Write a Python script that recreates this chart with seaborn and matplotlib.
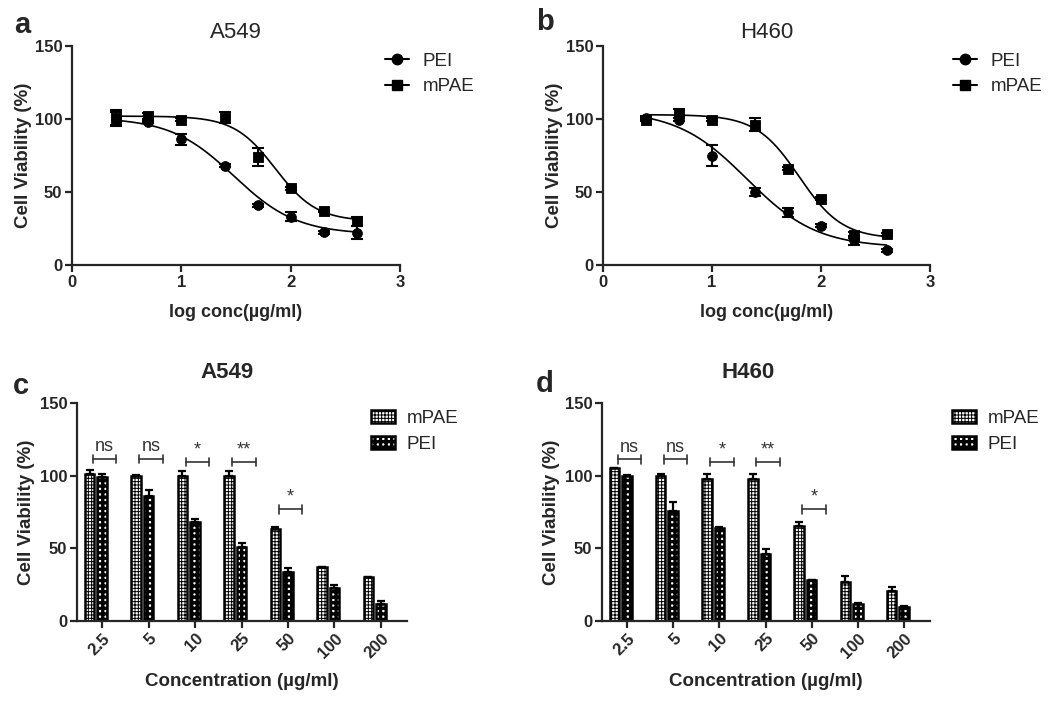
import numpy as np
import pandas as pd
import seaborn as sns
import matplotlib.pyplot as plt
from matplotlib.lines import Line2D
from matplotlib.patches import Patch

# ---- dose-response data (panels a, b) ----
conc_curve = [2.5, 5, 10, 25, 50, 100, 200, 400]
a_pei = [100, 98, 86, 68, 41, 33, 22.5, 22]
a_pei_err = [5, 1, 4, 1, 1, 3, 1, 4.5]
a_mpae = [101, 102, 99.5, 101, 74, 52.5, 37, 30]
a_mpae_err = [5, 2, 1, 4, 6, 1, 1, 3]
b_pei = [101, 99.5, 75, 50, 36, 27, 17, 10]
b_pei_err = [1, 1, 7, 3, 3, 1, 3, 1]
b_mpae = [99.5, 104, 99.5, 96, 66, 45.5, 20.5, 21]
b_mpae_err = [1, 3, 1, 4.5, 1, 1, 2, 1]

# fitted 4PL parameters: top, bottom, logIC50, hill slope
a_pei_fit = [101, 21, 1.48, -1.5]
a_mpae_fit = [102, 30, 1.86, -2.3]
b_pei_fit = [106, 12, 1.32, -1.35]
b_mpae_fit = [103, 18, 1.80, -2.2]

# ---- bar data (panels c, d) ----
conc_labels = ['2.5', '5', '10', '25', '50', '100', '200']
c_mpae = [101, 100, 100, 100, 63, 37, 30]
c_mpae_err = [3, 0.5, 3, 3, 2, 0.5, 0.5]
c_pei = [99, 86, 68, 51, 33.5, 22.5, 11.5]
c_pei_err = [2, 4.5, 2, 2.5, 3, 2.5, 2]
d_mpae = [105, 99.5, 97.5, 97.5, 65.5, 27, 20.5]
d_mpae_err = [0.5, 2, 3.5, 3.5, 3, 4, 3]
d_pei = [100, 75.5, 64, 46, 28, 12, 10]
d_pei_err = [0.5, 6.5, 0.5, 3.5, 0.5, 0.5, 0.5]

sig_labels = ['ns', 'ns', '*', '**', '*']
c_sig_y = [111.5, 111.5, 109.5, 109.5, 77]
d_sig_y = [111.3, 111.3, 109.5, 109.5, 77]

sns.set_style('ticks')
plt.rcParams['font.family'] = ['Liberation Sans', 'DejaVu Sans']
plt.rcParams['axes.linewidth'] = 1.6

MPAE_HATCH = '+++++'
PEI_HATCH = '+++'
MPAE_HLW = 0.7
PEI_HLW = 2.4


def four_pl(x, top, bottom, logic50, hill):
    return bottom + (top - bottom) / (1 + 10 ** ((logic50 - x) * hill))


def style_axes(ax):
    sns.despine(ax=ax)
    ax.tick_params(axis='both', length=5, width=1.6, labelsize=12, pad=2)
    for lab in ax.get_xticklabels() + ax.get_yticklabels():
        lab.set_fontweight('bold')
    ax.set_ylim(0, 150)
    ax.set_yticks([0, 50, 100, 150])


def set_hatch_lw(patch, lw):
    if hasattr(patch, 'set_hatch_linewidth'):
        patch.set_hatch_linewidth(lw)


def curve_panel(ax, pei, pei_err, mpae, mpae_err, pei_fit, mpae_fit, title):
    x = np.log10(conc_curve)
    xfit = np.linspace(x[0], x[-1], 200)
    for vals, errs, fit, mk, size in [(pei, pei_err, pei_fit, 'o', 50),
                                     (mpae, mpae_err, mpae_fit, 's', 60)]:
        sns.lineplot(x=xfit, y=four_pl(xfit, *fit), color='black', lw=1.2, ax=ax)
        ax.errorbar(x, vals, yerr=errs, fmt='none', ecolor='black',
                    elinewidth=1.5, capsize=4, capthick=1.5)
        sns.scatterplot(x=x, y=vals, marker=mk, s=size, color='black',
                        edgecolor='black', ax=ax, zorder=3)
    ax.set_xlim(0, 3)
    ax.set_xticks([0, 1, 2, 3])
    style_axes(ax)
    ax.set_xlabel('log conc(µg/ml)', fontsize=13, fontweight='bold', labelpad=10)
    ax.set_ylabel('Cell Viability (%)', fontsize=13.5, fontweight='bold', labelpad=2)
    ax.set_title(title, fontsize=16, pad=6)


def bar_panel(ax, mpae, mpae_err, pei, pei_err, sig_y, title, title_x):
    df = pd.DataFrame({
        'conc': conc_labels * 2,
        'material': ['mPAE'] * len(conc_labels) + ['PEI'] * len(conc_labels),
        'viability': mpae + pei,
    })
    sns.barplot(data=df, x='conc', y='viability', hue='material',
                order=conc_labels, hue_order=['mPAE', 'PEI'],
                width=0.54, gap=0.24, errorbar=None, legend=False,
                edgecolor='black', linewidth=1.8, ax=ax)
    centers = []
    for cont, hatch, hlw, vals, errs in zip(ax.containers,
                                           [MPAE_HATCH, PEI_HATCH], [MPAE_HLW, PEI_HLW],
                                           [mpae, pei], [mpae_err, pei_err]):
        xs = []
        for p in cont:
            p.set_facecolor('white')
            p.set_hatch(hatch)
            set_hatch_lw(p, hlw)
            xs.append(p.get_x() + p.get_width() / 2)
        ax.errorbar(xs, vals, yerr=[np.zeros(len(errs)), errs], fmt='none',
                    ecolor='black', elinewidth=1.6, capsize=3, capthick=1.6,
                    zorder=0.5)
        centers.append(xs)
    ticks = centers[1]
    ax.set_xticks(ticks, conc_labels, rotation=45, ha='right',
                  rotation_mode='anchor')
    ax.set_xlim(ticks[0] - 0.54, ticks[-1] + 0.56)
    style_axes(ax)
    # significance brackets
    for t, lab, h in zip(ticks, sig_labels, sig_y):
        left, right = t - 0.2, t + 0.31
        ax.plot([left, right], [h, h], color='#333333', lw=1.2)
        ax.plot([left, left], [h - 3, h + 3], color='#333333', lw=1.2)
        ax.plot([right, right], [h - 3, h + 3], color='#333333', lw=1.2)
        ax.text((left + right) / 2, h + 2.5, lab, ha='center', va='bottom',
                fontsize=13, color='#333333')
    ax.set_xlabel('Concentration (µg/ml)', fontsize=13.5, fontweight='bold', labelpad=9)
    ax.set_ylabel('Cell Viability (%)', fontsize=13.5, fontweight='bold', labelpad=3)
    ax.set_title(title, fontsize=16, fontweight='bold', pad=18, x=title_x)


fig = plt.figure(figsize=(10.5, 7.03), dpi=100)
ax_a = fig.add_axes([0.0686, 0.623, 0.3124, 0.3115])
ax_b = fig.add_axes([0.5743, 0.623, 0.3114, 0.3115])
ax_c = fig.add_axes([0.0733, 0.1166, 0.3143, 0.310])
ax_d = fig.add_axes([0.5733, 0.1166, 0.3124, 0.310])

curve_panel(ax_a, a_pei, a_pei_err, a_mpae, a_mpae_err, a_pei_fit, a_mpae_fit, 'A549')
curve_panel(ax_b, b_pei, b_pei_err, b_mpae, b_mpae_err, b_pei_fit, b_mpae_fit, 'H460')
bar_panel(ax_c, c_mpae, c_mpae_err, c_pei, c_pei_err, c_sig_y, 'A549', 0.455)
bar_panel(ax_d, d_mpae, d_mpae_err, d_pei, d_pei_err, d_sig_y, 'H460', 0.445)

curve_handles = [Line2D([0], [0], color='black', lw=1.5, marker='o', markersize=7.5),
                 Line2D([0], [0], color='black', lw=1.5, marker='s', markersize=7.5)]
for ax, xa in [(ax_a, 0.954), (ax_b, 1.07)]:
    ax.legend(curve_handles, ['PEI', 'mPAE'], loc='upper left',
              bbox_to_anchor=(xa, 0.97), frameon=False, fontsize=13.5,
              handlelength=1.3, handletextpad=0.7, labelspacing=0.45,
              borderpad=0, borderaxespad=0)

for ax, xa in [(ax_c, 0.891), (ax_d, 1.067)]:
    bar_handles = [Patch(facecolor='white', edgecolor='black', lw=1.8, hatch=MPAE_HATCH),
                   Patch(facecolor='white', edgecolor='black', lw=1.8, hatch=PEI_HATCH)]
    set_hatch_lw(bar_handles[0], MPAE_HLW)
    set_hatch_lw(bar_handles[1], PEI_HLW)
    leg = ax.legend(bar_handles, ['mPAE', 'PEI'], loc='upper left',
                    bbox_to_anchor=(xa, 0.968), frameon=False, fontsize=13.5,
                    handlelength=1.3, handleheight=0.7, handletextpad=0.6,
                    labelspacing=0.45, borderpad=0, borderaxespad=0)
    for lp, hlw in zip(leg.get_patches(), [MPAE_HLW, PEI_HLW]):
        set_hatch_lw(lp, hlw)

for lab, x, y in [('a', 22, 25), ('b', 545, 22), ('c', 21, 386), ('d', 545, 384)]:
    fig.text(x / 1050, 1 - y / 703, lab, fontsize=21, fontweight='bold',
             ha='center', va='center')

fig.savefig('out.png', dpi=100)
